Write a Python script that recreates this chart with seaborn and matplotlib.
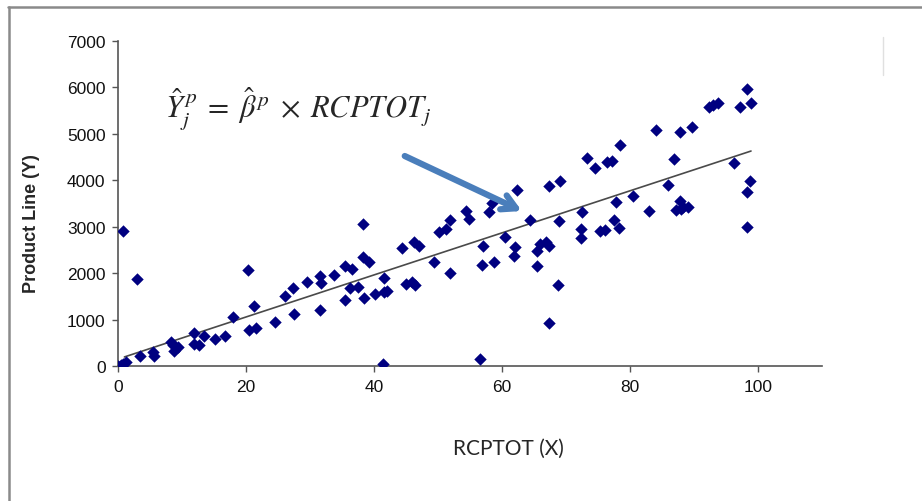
import numpy as np
import pandas as pd
import matplotlib
matplotlib.use("Agg")
import matplotlib.pyplot as plt
import seaborn as sns
from matplotlib.lines import Line2D

# values
rcptot = [0.0, 0.4, 0.8, 1.2, 0.8, 2.9, 3.4, 5.4, 5.6, 8.3, 8.8, 9.3, 8.6,
          11.8, 11.8, 12.6, 13.5, 15.2, 16.7, 18.0, 20.3, 21.3, 20.4, 21.5,
          24.5, 27.5, 26.1, 27.3, 29.5, 31.6, 31.7, 31.6, 33.7, 35.4, 36.6,
          35.4, 36.3, 37.5, 38.3, 38.3, 39.2, 38.5, 40.2, 41.5, 41.5, 42.1,
          41.4, 44.3, 46.2, 47.1, 45.0, 45.9, 46.4, 49.4, 50.1, 51.2, 51.9,
          51.9, 54.4, 54.9, 57.9, 58.4, 57.1, 56.9, 58.8, 56.6, 60.4, 62.4,
          62.1, 61.8, 64.3, 65.5, 66.0, 66.9, 67.3, 65.5, 67.4, 69.0, 68.9,
          68.8, 67.3, 72.5, 72.3, 72.4, 73.3, 74.5, 75.3, 76.1, 76.4, 77.2,
          78.5, 77.8, 77.5, 78.2, 80.5, 82.9, 84.1, 86.8, 85.9, 87.8, 89.7,
          87.2, 87.8, 88.3, 89.0, 87.9, 92.4, 92.9, 93.7, 96.3, 97.2, 98.3,
          98.9, 98.8, 98.3, 98.3]
product_line = [0, 20, 40, 80, 2900, 1875, 210, 310, 210, 525, 330, 400, 450,
                710, 475, 450, 640, 580, 650, 1050, 2070, 1300, 775, 810,
                955, 1110, 1515, 1675, 1800, 1945, 1790, 1215, 1960, 2150, 2090,
                1430, 1675, 1695, 3060, 2340, 2250, 1460, 1550, 1890, 1590, 1620,
                40, 2540, 2680, 2580, 1765, 1800, 1745, 2250, 2880, 2950, 3150,
                2000, 3345, 3165, 3325, 3510, 2580, 2175, 2250, 150, 2770, 3800,
                2555, 2375, 3150, 2480, 2630, 2665, 2580, 2150, 3870, 3990, 3130,
                1745, 925, 3325, 2950, 2750, 4470, 4260, 2915, 2930, 4390, 4420,
                4760, 3525, 3145, 2970, 3670, 3345, 5080, 4460, 3905, 5050, 5155,
                3360, 3560, 3430, 3430, 3380, 5570, 5630, 5660, 4365, 5585, 5965,
                5660, 3980, 3740, 2990]

# trend line as drawn in the picture
trend_intercept = 150
trend_slope = 45.3

x_ticks = [0, 20, 40, 60, 80, 100]
y_ticks = [0, 1000, 2000, 3000, 4000, 5000, 6000, 7000]

df = pd.DataFrame({"RCPTOT": rcptot, "Product": product_line})

sns.set_style("white")
plt.rcParams["font.family"] = ["Liberation Sans Narrow", "Liberation Sans", "DejaVu Sans"]
plt.rcParams["mathtext.fontset"] = "stix"

fig = plt.figure(figsize=(9.22, 5.02), dpi=100)
ax = fig.add_axes([0.128, 0.2689, 0.7636, 0.6474])

sns.scatterplot(data=df, x="RCPTOT", y="Product", marker="D", s=40,
                color="#000080", linewidth=0, ax=ax, zorder=3)

tx = np.array([min(rcptot) + 1, max(rcptot)])
ax.plot(tx, trend_intercept + trend_slope * tx, color="#4a4a4a", lw=1.2, zorder=2)

ax.set_xlim(0, 110)
ax.set_ylim(0, 7000)
ax.set_xticks(x_ticks)
ax.set_yticks(y_ticks)
ax.tick_params(axis="both", direction="out", length=4, width=1, color="#555555",
               labelsize=12.5, pad=5, left=True, bottom=True, labelcolor="#111111")
for s in ["top", "right"]:
    ax.spines[s].set_visible(False)
for s in ["left", "bottom"]:
    ax.spines[s].set_color("#555555")
    ax.spines[s].set_linewidth(1.2)

ax.set_ylabel("Product Line (Y)", fontsize=13, fontweight="bold",
              family=["Liberation Sans", "DejaVu Sans"])
ax.yaxis.set_label_coords(-0.111, 0.44)
ax.set_xlabel("RCPTOT (X)", fontsize=15, family=["Lato", "DejaVu Sans"])
ax.xaxis.set_label_coords(0.554, -0.22)

fig.text(0.179, 0.763, r"$\hat{Y}_j^{\,p}\;=\;\hat{\beta}^{\,p}\;\times\;RCPTOT_j$",
         fontsize=22, ha="left", va="baseline")

ax.annotate("", xy=(63.1, 3338), xytext=(44.8, 4523),
            arrowprops=dict(arrowstyle="->,head_length=1.0,head_width=0.55",
                            color="#4A7EBB", lw=4.5, shrinkA=0, shrinkB=0),
            zorder=4)

# chart frame lines (top and left edge) plus the small mark at the right
fig.add_artist(Line2D([0.009, 1.0], [0.984, 0.984], color="#8a8a8a", lw=1.8))
fig.add_artist(Line2D([0.0098, 0.0098], [0.0, 0.984], color="#8a8a8a", lw=1.8))
fig.add_artist(Line2D([0.9577, 0.9577], [0.848, 0.924], color="#e0e0e0", lw=1))

fig.savefig("out.png", dpi=100)
